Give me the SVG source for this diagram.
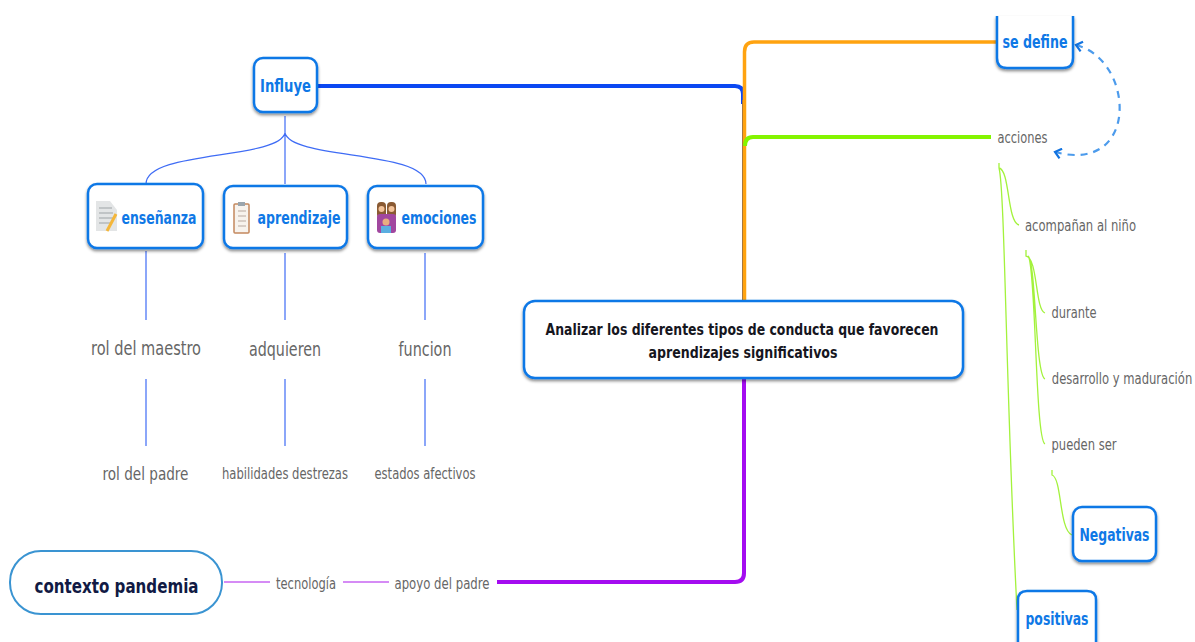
<svg xmlns="http://www.w3.org/2000/svg" width="1195" height="642" viewBox="0 0 1195 642">
<defs>
<style>
text{font-family:"DejaVu Sans","Liberation Sans",sans-serif;font-stretch:condensed;text-anchor:middle}
.box{fill:#fff;stroke:#0f78e6;stroke-width:2.5;filter:url(#sh)}
.b{font-weight:700;fill:#0f78e6;font-size:17px}
.g{fill:#666}
.k{font-weight:700;fill:#16161e;font-size:16px}
.thick{fill:none;stroke-width:4}
.blue{fill:none;stroke:#3f6cf5;stroke-width:1.2}
.lime{fill:none;stroke:#a3f23c;stroke-width:1.3}
.pur{fill:none;stroke:#d58bf5;stroke-width:2}
</style>
<filter id="sh" x="-10%" y="-20%" width="120%" height="145%"><feDropShadow dx="0" dy="2" stdDeviation="1.6" flood-color="#000" flood-opacity=".45"/></filter>
<marker id="as" markerWidth="12" markerHeight="12" refX="2" refY="6" orient="auto" markerUnits="userSpaceOnUse"><path d="M8 1L2 6L8 11" fill="none" stroke="#1273e0" stroke-width="2.2"/></marker>
<marker id="ae" markerWidth="12" markerHeight="12" refX="10" refY="6" orient="auto" markerUnits="userSpaceOnUse"><path d="M4 1L10 6L4 11" fill="none" stroke="#1273e0" stroke-width="2.2"/></marker>
</defs>
<rect width="1195" height="642" fill="#fff"/>
<g id="connectors">
<path class="thick" stroke="#0b48f2" d="M317 86H735Q743 86 743 94V104"/>
<path d="M743 100V300" fill="none" stroke="#8a6a50" stroke-width="2"/>
<path fill="none" stroke="#ffa310" stroke-width="3.5" d="M744.500 300V52Q744.500 42 754 42H997"/>
<path class="thick" stroke="#84f500" d="M745 146Q745 137 753 137H991"/>
<path class="thick" stroke="#a40cf0" d="M744 378V573Q744 582 735 582H497"/>
<path class="blue" d="M285 116V184M285 133C278 160 146 150 146 184M285 133C292 160 426 150 426 184"/>
<path class="blue" d="M146 251V320M285 253V320M425 253V320M146 379V446M285 379V446M425 379V446"/>
<path class="pur" d="M224 582H270M343 582H389"/>
<path class="lime" d="M999 163V168C1010 170 1007 222 1019 225M999 168C1005 190 1006 400 1017 610"/>
<path class="lime" d="M1026 250V256C1038 258 1035 310 1045 313M1028 256C1036 260 1035 375 1045 379M1028 256C1036 262 1035 440 1045 444"/>
<path class="lime" d="M1052 470V475C1062 478 1059 530 1072 535"/>
<path d="M1076 45C1135 60 1140 175 1055 152" fill="none" stroke="#4c9bec" stroke-width="2.200" stroke-dasharray="7 6" marker-start="url(#as)" marker-end="url(#ae)"/>
</g>
<g id="central"><rect class="box" x="524" y="301" width="439" height="77" rx="11"/>
<text class="k" x="742" y="335" textLength="393" lengthAdjust="spacingAndGlyphs">Analizar los diferentes tipos de conducta que favorecen</text>
<text class="k" x="743" y="358" textLength="189" lengthAdjust="spacingAndGlyphs">aprendizajes significativos</text></g>
<g id="influye"><rect class="box" x="254" y="58" width="63" height="54" rx="9"/><text class="b" x="285.500" y="92" textLength="51" lengthAdjust="spacingAndGlyphs">Influye</text></g>
<g id="ensenanza"><rect class="box" x="88" y="184" width="115" height="64" rx="9"/>
<path d="M96 201H110L117 210V231H96Z" fill="#e3e5e6"/><path d="M99 208H112M99 213H113M99 218H113M99 223H110" stroke="#b5b9bc" stroke-width="1.500"/><path d="M107 231L116 214" stroke="#f4b63a" stroke-width="3"/>
<text class="b" x="159" y="224" textLength="75" lengthAdjust="spacingAndGlyphs">enseñanza</text></g>
<g id="aprendizaje"><rect class="box" x="224" y="186" width="123" height="62" rx="9"/>
<rect x="234" y="204" width="15" height="29" rx="1" fill="#f7f3ee" stroke="#c4885d" stroke-width="1.500"/><rect x="238" y="202" width="7" height="4" fill="#9aa5ad"/><path d="M238 211H246M238 216H246M238 221H246M238 226H246" stroke="#b8a9a0"/>
<text class="b" x="299" y="224" textLength="83" lengthAdjust="spacingAndGlyphs">aprendizaje</text></g>
<g id="emociones"><rect class="box" x="368" y="186" width="115" height="62" rx="9"/>
<rect x="377" y="202" width="9" height="16" rx="4" fill="#8a5a33"/><rect x="387" y="202" width="9" height="16" rx="4" fill="#8a5a33"/><circle cx="381.500" cy="209" r="3" fill="#f3c39a"/><circle cx="391.500" cy="209" r="3" fill="#f3c39a"/><rect x="377" y="214" width="19" height="19" rx="3" fill="#a1479f"/><circle cx="386" cy="222" r="3.500" fill="#e8ad80"/><rect x="381" y="226" width="10" height="7" fill="#5aaee0"/>
<text class="b" x="439" y="224" textLength="75" lengthAdjust="spacingAndGlyphs">emociones</text></g>
<g id="rol-maestro"><text class="g" x="146" y="355" font-size="19" textLength="110" lengthAdjust="spacingAndGlyphs">rol del maestro</text></g>
<g id="adquieren"><text class="g" x="285" y="356" font-size="19" textLength="72" lengthAdjust="spacingAndGlyphs">adquieren</text></g>
<g id="funcion"><text class="g" x="425" y="356" font-size="19" textLength="53" lengthAdjust="spacingAndGlyphs">funcion</text></g>
<g id="rol-padre"><text class="g" x="145.500" y="480" font-size="17" textLength="86" lengthAdjust="spacingAndGlyphs">rol del padre</text></g>
<g id="habilidades"><text class="g" x="285" y="479" font-size="15" textLength="126" lengthAdjust="spacingAndGlyphs">habilidades destrezas</text></g>
<g id="estados"><text class="g" x="425" y="479" font-size="15" textLength="101" lengthAdjust="spacingAndGlyphs">estados afectivos</text></g>
<g id="contexto"><rect x="10" y="551" width="212" height="63" rx="31" fill="#fff" stroke="#3a94d2" stroke-width="2"/><text x="116.500" y="593" font-size="20" font-weight="700" fill="#111a44" textLength="164" lengthAdjust="spacingAndGlyphs">contexto pandemia</text></g>
<g id="tecnologia"><text class="g" x="306" y="589" font-size="15" textLength="60" lengthAdjust="spacingAndGlyphs">tecnología</text></g>
<g id="apoyo"><text class="g" x="442" y="589" font-size="15" textLength="95" lengthAdjust="spacingAndGlyphs">apoyo del padre</text></g>
<g id="se-define"><path class="box" d="M997 16V58Q997 68 1007 68H1063Q1073 68 1073 58V16"/><text class="b" x="1035" y="48" textLength="65" lengthAdjust="spacingAndGlyphs">se define</text></g>
<g id="acciones"><text class="g" x="1022.500" y="143" font-size="15" textLength="50" lengthAdjust="spacingAndGlyphs">acciones</text></g>
<g id="acompanan"><text class="g" x="1080.500" y="231" font-size="15" textLength="111" lengthAdjust="spacingAndGlyphs">acompañan al niño</text></g>
<g id="durante"><text class="g" x="1074" y="318" font-size="15" textLength="45" lengthAdjust="spacingAndGlyphs">durante</text></g>
<g id="desarrollo"><text class="g" transform="translate(1122 384) scale(.86 1)" x="0" y="0" font-size="15">desarrollo y maduración</text></g>
<g id="pueden-ser"><text class="g" x="1084" y="450" font-size="15" textLength="65" lengthAdjust="spacingAndGlyphs">pueden ser</text></g>
<g id="negativas"><rect class="box" x="1073" y="507" width="83" height="54" rx="9"/><text class="b" x="1114.500" y="541" textLength="70" lengthAdjust="spacingAndGlyphs">Negativas</text></g>
<g id="positivas"><path class="box" d="M1018 642V600Q1018 591 1027 591H1087Q1096 591 1096 600V642"/><text class="b" x="1057" y="625" textLength="63" lengthAdjust="spacingAndGlyphs">positivas</text></g>
</svg>
